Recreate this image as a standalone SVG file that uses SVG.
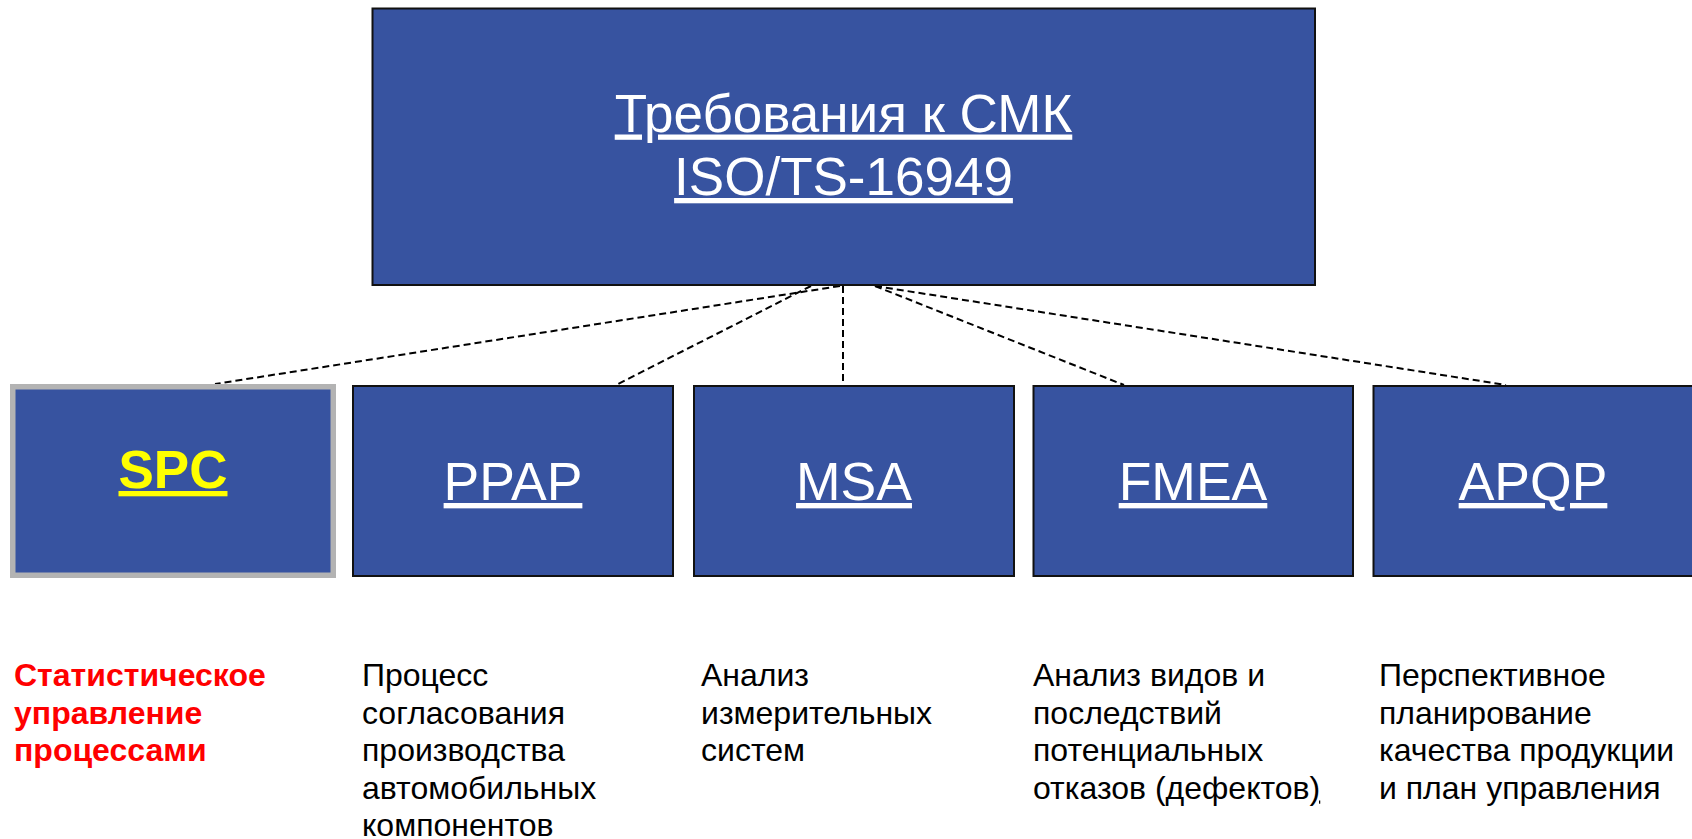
<svg xmlns="http://www.w3.org/2000/svg" width="1692" height="839" viewBox="0 0 1692 839">
  <style>
    .box { fill: #3753a0; stroke: #111; stroke-width: 2; }
    .box-sel { fill: #3753a0; stroke: #b3b3b3; stroke-width: 5.5; }
    .title { font-family: "Liberation Sans", Arial, sans-serif; font-size: 53px; fill: #fff; text-anchor: middle; text-decoration: underline; }
    .abbr { font-family: "Liberation Sans", Arial, sans-serif; font-size: 53.5px; fill: #fff; text-anchor: middle; text-decoration: underline; }
    .abbr-sel { font-family: "Liberation Sans", Arial, sans-serif; font-size: 53px; font-weight: bold; fill: #ffff00; text-anchor: middle; text-decoration: underline; }
    .desc { font-family: "Liberation Sans", Arial, sans-serif; font-size: 32px; fill: #000; }
    .desc-sel { font-family: "Liberation Sans", Arial, sans-serif; font-size: 32px; font-weight: bold; fill: #ff0000; }
    .link { fill: none; stroke: #000; stroke-width: 2; stroke-dasharray: 7 4; }
  </style>

  <!-- dashed links from the standard to each core tool -->
  <g id="connectors">
    <line class="link" x1="840" y1="286" x2="215" y2="384"/>
    <line class="link" x1="811" y1="286" x2="616" y2="385"/>
    <line class="link" x1="843" y1="286" x2="843" y2="385"/>
    <line class="link" x1="875" y1="286" x2="1124" y2="385"/>
    <line class="link" x1="875" y1="286" x2="1506" y2="385"/>
  </g>

  <g id="node-standard">
    <rect class="box" x="372.5" y="8.5" width="942.5" height="276.5"/>
    <text class="title" x="843.5" y="131.5">Требования к СМК</text>
    <text class="title" x="843.5" y="195">ISO/TS-16949</text>
  </g>

  <g id="node-spc">
    <rect class="box-sel" x="12.75" y="386.75" width="320.5" height="188.5"/>
    <text class="abbr-sel" x="173" y="488">SPC</text>
  </g>

  <g id="node-ppap">
    <rect class="box" x="353" y="386" width="320" height="190"/>
    <text class="abbr" x="513" y="500">PPAP</text>
  </g>

  <g id="node-msa">
    <rect class="box" x="694" y="386" width="320" height="190"/>
    <text class="abbr" x="854" y="500">MSA</text>
  </g>

  <g id="node-fmea">
    <rect class="box" x="1033.5" y="386" width="319.5" height="190"/>
    <text class="abbr" x="1193" y="500">FMEA</text>
  </g>

  <g id="node-apqp">
    <rect class="box" x="1373.5" y="386" width="320" height="190"/>
    <text class="abbr" x="1533" y="500">APQP</text>
  </g>

  <!-- descriptions under each tool -->
  <g id="desc-spc">
    <text class="desc-sel" x="14" y="686">
      <tspan x="14" y="686">Статистическое</tspan>
      <tspan x="14" y="723.5">управление</tspan>
      <tspan x="14" y="761">процессами</tspan>
    </text>
  </g>

  <g id="desc-ppap">
    <text class="desc" x="362" y="686">
      <tspan x="362" y="686">Процесс</tspan>
      <tspan x="362" y="723.5">согласования</tspan>
      <tspan x="362" y="761">производства</tspan>
      <tspan x="362" y="798.5">автомобильных</tspan>
      <tspan x="362" y="836">компонентов</tspan>
    </text>
  </g>

  <g id="desc-msa">
    <text class="desc" x="701" y="686">
      <tspan x="701" y="686">Анализ</tspan>
      <tspan x="701" y="723.5">измерительных</tspan>
      <tspan x="701" y="761">систем</tspan>
    </text>
  </g>

  <g id="desc-fmea">
    <text class="desc" x="1033" y="686">
      <tspan x="1033" y="686">Анализ видов и</tspan>
      <tspan x="1033" y="723.5">последствий</tspan>
      <tspan x="1033" y="761">потенциальных</tspan>
      <tspan x="1033" y="798.5">отказов (дефектов<tspan text-decoration="underline">)</tspan></tspan>
    </text>
  </g>

  <g id="desc-apqp">
    <text class="desc" x="1379" y="686">
      <tspan x="1379" y="686">Перспективное</tspan>
      <tspan x="1379" y="723.5">планирование</tspan>
      <tspan x="1379" y="761">качества продукции</tspan>
      <tspan x="1379" y="798.5">и план управления</tspan>
    </text>
  </g>
</svg>
